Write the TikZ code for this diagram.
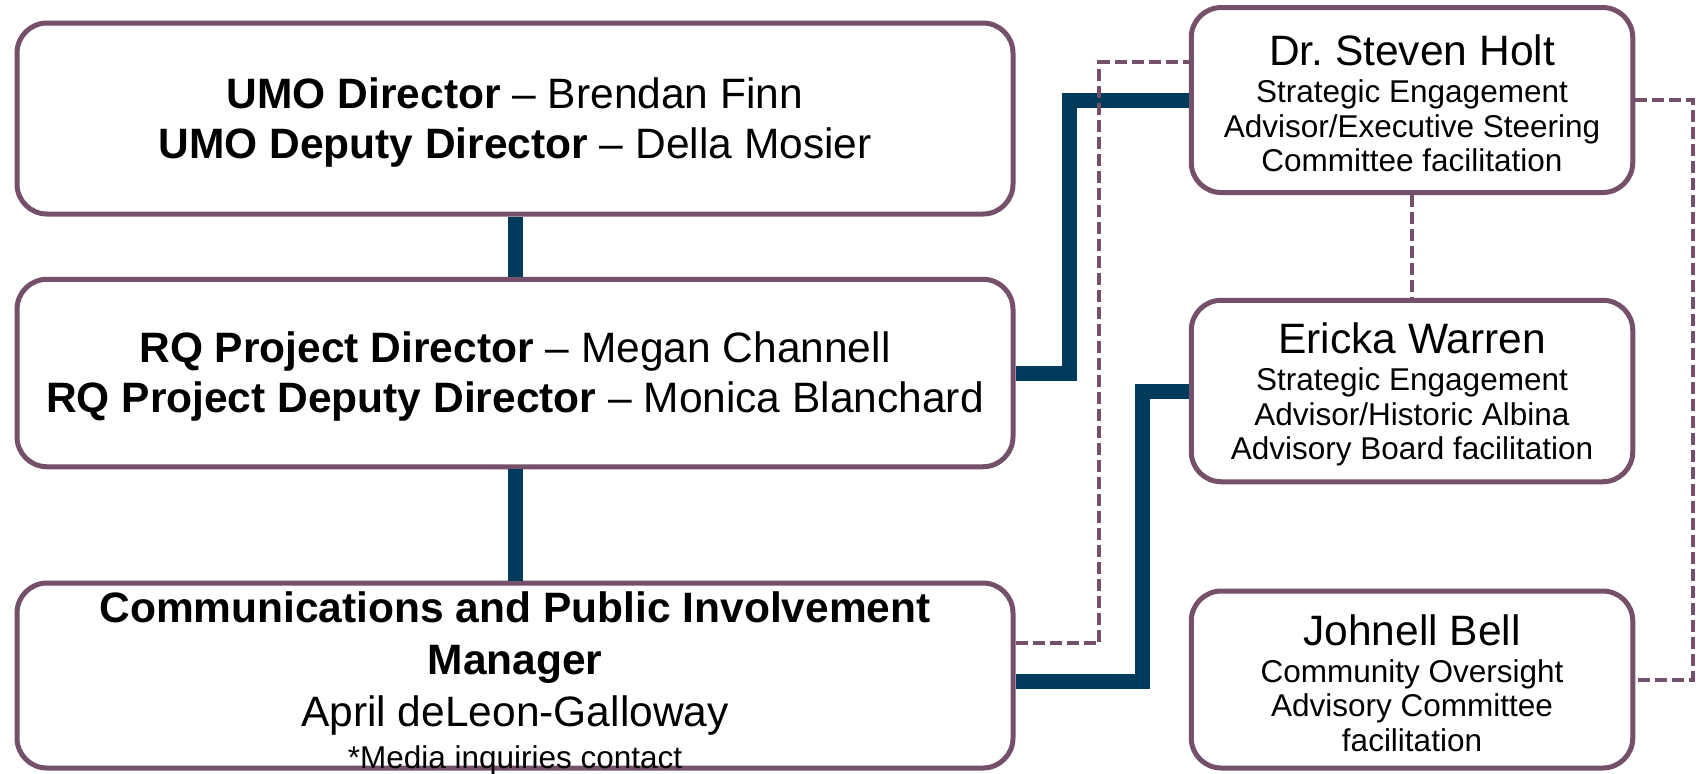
\documentclass[tikz,border=0pt]{standalone}
\usepackage{fontspec}
\setmainfont{Liberation Sans}
\usepackage{tikz}
\usetikzlibrary{positioning}
\definecolor{plum}{RGB}{117,80,106}
\definecolor{navyline}{RGB}{0,59,92}
\newcommand{\bigsz}{\fontsize{21.25}{25}\selectfont}
\newcommand{\commsz}{\fontsize{21.25}{26}\selectfont}
\newcommand{\subsz}{\fontsize{15.75}{17.25}\selectfont}
\newcommand{\topstrut}[1]{\rule{0pt}{#1}}
\tikzset{
    orgbox/.style={draw=plum, line width=2.5pt, rounded corners=15pt, fill=white, align=center, inner sep=0pt},
    solidlink/.style={draw=navyline, line width=7.5pt},
    dashlink/.style={draw=plum, line width=2pt, dash pattern=on 6pt off 2.5pt}
}

\begin{document}
\begin{tikzpicture}[x=0.5pt, y=-0.5pt]
        \useasboundingbox (0,0) rectangle (1696,773);

        \node[orgbox, minimum width=498pt, minimum height=95.5pt, font=\bigsz] (umo) at (515,118.5) {\topstrut{19pt}\textbf{UMO Director} – Brendan Finn\\\textbf{UMO Deputy Director} – Della Mosier};
        \node[orgbox, minimum width=498pt, minimum height=93.75pt, font=\bigsz] (rq) at (515,373) {\topstrut{19pt}\textbf{RQ Project Director} – Megan Channell\\\textbf{RQ Project Deputy Director} – Monica Blanchard};
        \node[orgbox, minimum width=498pt, minimum height=92.5pt, inner ysep=-4.5pt, font=\commsz] (comms) at (515,675.5) {\topstrut{23.5pt}\textbf{Communications and Public Involvement}\\\textbf{Manager}\\April deLeon-Galloway\\[-5pt]{\subsz *Media inquiries contact}};

        \node[orgbox, minimum width=220.75pt, minimum height=92.5pt, font=\subsz] (steven) at (1412,100) {{\bigsz\topstrut{19pt}Dr.\ Steven Holt}\\[1.25pt]Strategic Engagement\\Advisor/Executive Steering\\Committee facilitation};
        \node[orgbox, minimum width=220.75pt, minimum height=90.75pt, font=\subsz] (ericka) at (1412,391) {{\bigsz\topstrut{19pt}Ericka Warren}\\[1.25pt]Strategic Engagement\\Advisor/Historic Albina\\Advisory Board facilitation};
        \node[orgbox, minimum width=220.75pt, minimum height=88.5pt, font=\subsz] (johnell) at (1412,679.5) {{\bigsz\topstrut{19pt}Johnell Bell}\\[1.25pt]Community Oversight\\Advisory Committee\\facilitation};

        \coordinate (jogrq) at (1069.5,0);
        \coordinate (jogcomms) at (1142.5,0);
        \coordinate (jogdash) at (1099,0);
        \coordinate (jogright) at (1693,0);
        \coordinate (commsout) at ([yshift=-2.75pt]comms.east);
        \coordinate (commsdash) at ([yshift=16.25pt]comms.east);
        \coordinate (stevendash) at ([yshift=19pt]steven.west);

        \draw[solidlink] (umo) -- (rq);
        \draw[solidlink] (rq) -- (comms);
        \draw[solidlink] (rq.east) -- (rq.east -| jogrq) |- (steven.west);
        \draw[solidlink] (commsout) -- (commsout -| jogcomms) |- (ericka.west);

        \draw[dashlink] (commsdash) -- (commsdash -| jogdash) |- (stevendash);
        \draw[dashlink] (steven) -- (ericka);
        \draw[dashlink] (steven.east) -- (steven.east -| jogright) |- (johnell.east);
    \end{tikzpicture}
\end{document}
